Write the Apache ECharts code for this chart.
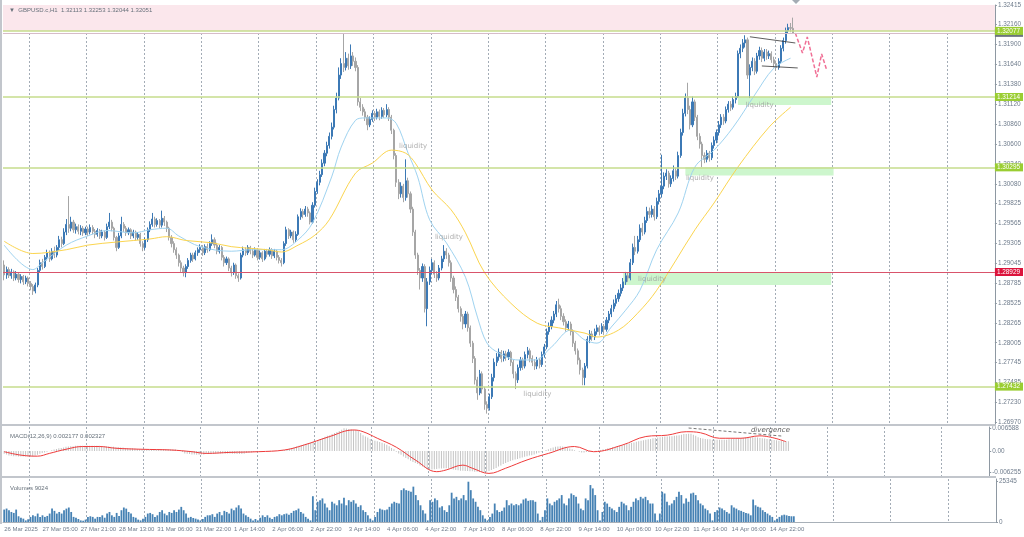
<!DOCTYPE html>
<html><head><meta charset="utf-8">
<script src="https://cdn.jsdelivr.net/npm/echarts@6.0.0/dist/echarts.min.js"></script>
<style>html,body{margin:0;padding:0;background:#fff}#c{width:1024px;height:537px}</style>
</head><body><div id="c"></div>
<script>
// ---------- DATA ----------
const timeLabels = ['26 Mar 2025','27 Mar 05:00','27 Mar 21:00','28 Mar 13:00','31 Mar 06:00','31 Mar 22:00','1 Apr 14:00','2 Apr 06:00','2 Apr 22:00','3 Apr 14:00','4 Apr 06:00','4 Apr 22:00','7 Apr 14:00','8 Apr 06:00','8 Apr 22:00','9 Apr 14:00','10 Apr 06:00','10 Apr 22:00','11 Apr 14:00','14 Apr 06:00','14 Apr 22:00'];
const priceTicks = [1.32415,1.32160,1.31900,1.31640,1.31380,1.31120,1.30860,1.30600,1.30340,1.30080,1.29825,1.29565,1.29305,1.29045,1.28785,1.28525,1.28265,1.28005,1.27745,1.27485,1.27230,1.26970];
const macdTicks = [0.006588, 0, -0.006255];
const volumeTicks = [25345, 0];

// hourly candles: open, close, low, high (price x 10^4)
const ohlc = [
[12902,12889,12882,12908],[12889,12896,12884,12900],[12896,12888,12885,12899],[12888,12893,12884,12897],[12893,12885,12881,12895],
[12885,12890,12882,12894],[12890,12883,12879,12892],[12883,12887,12878,12890],[12887,12880,12876,12889],[12880,12885,12877,12888],
[12885,12878,12874,12887],[12878,12874,12869,12881],[12874,12868,12863,12877],[12868,12876,12865,12879],[12876,12895,12873,12898],
[12895,12905,12892,12909],[12905,12900,12896,12910],[12900,12912,12898,12915],[12912,12918,12908,12922],[12918,12910,12906,12921],
[12910,12920,12908,12924],[12920,12915,12911,12926],[12915,12925,12912,12928],[12925,12935,12921,12940],[12935,12930,12925,12939],
[12930,12945,12928,12950],[12945,12955,12941,12962],[12955,12950,12944,12992],[12950,12958,12946,12965],[12958,12948,12944,12961],
[12948,12952,12943,12956],[12952,12946,12942,12955],[12946,12950,12941,12954],[12950,12944,12940,12953],[12944,12949,12941,12952],
[12949,12945,12940,12952],[12945,12951,12942,12955],[12951,12946,12942,12954],[12946,12942,12937,12949],[12942,12947,12939,12950],
[12947,12940,12936,12949],[12940,12945,12937,12948],[12945,12938,12934,12947],[12938,12952,12936,12956],[12952,12958,12949,12970],
[12958,12950,12946,12961],[12950,12938,12934,12952],[12938,12925,12920,12940],[12925,12940,12923,12944],[12940,12955,12937,12965],
[12955,12950,12945,12958],[12950,12944,12940,12953],[12944,12948,12941,12951],[12948,12940,12936,12950],[12940,12945,12937,12948],
[12945,12938,12934,12947],[12938,12942,12935,12945],[12942,12930,12926,12944],[12930,12925,12920,12933],[12925,12935,12922,12938],
[12935,12948,12932,12951],[12948,12955,12945,12959],[12955,12962,12952,12970],[12962,12955,12951,12965],[12955,12960,12952,12963],
[12960,12954,12950,12962],[12954,12963,12951,12973],[12963,12958,12953,12966],[12958,12950,12945,12960],[12950,12938,12934,12952],
[12938,12930,12925,12941],[12930,12922,12918,12933],[12922,12915,12910,12925],[12915,12905,12900,12917],[12905,12898,12893,12908],
[12898,12892,12887,12901],[12892,12900,12886,12903],[12900,12908,12897,12911],[12908,12915,12905,12918],[12915,12910,12906,12918],
[12910,12918,12908,12921],[12918,12922,12914,12925],[12922,12925,12918,12929],[12925,12918,12914,12928],[12918,12926,12915,12929],
[12926,12922,12918,12930],[12922,12930,12920,12933],[12930,12935,12927,12942],[12935,12928,12924,12938],[12928,12920,12916,12931],
[12920,12925,12917,12928],[12925,12912,12908,12927],[12912,12905,12900,12915],[12905,12910,12902,12913],[12910,12898,12894,12912],
[12898,12892,12887,12901],[12892,12902,12889,12905],[12902,12888,12884,12904],[12888,12885,12880,12891],[12885,12915,12883,12918],
[12915,12922,12912,12926],[12922,12918,12914,12925],[12918,12925,12915,12928],[12925,12920,12916,12927],[12920,12915,12911,12923],
[12915,12922,12913,12925],[12922,12912,12908,12924],[12912,12918,12909,12921],[12918,12910,12906,12920],[12910,12920,12908,12923],
[12920,12916,12912,12923],[12916,12922,12913,12925],[12922,12914,12910,12924],[12914,12920,12911,12923],[12920,12912,12908,12922],
[12912,12908,12904,12915],[12908,12905,12900,12911],[12905,12930,12903,12933],[12930,12948,12927,12952],[12948,12940,12936,12950],
[12940,12945,12937,12948],[12945,12935,12931,12947],[12935,12942,12932,12946],[12942,12965,12940,12968],[12965,12972,12961,12976],
[12972,12968,12963,12975],[12968,12975,12965,12979],[12975,12970,12965,12978],[12970,12958,12955,12972],[12958,12980,12956,12984],
[12980,12998,12977,13003],[12998,13010,12995,13014],[13010,13020,13006,13025],[13020,13035,13017,13040],[13035,13048,13031,13052],
[13048,13058,13044,13063],[13058,13070,13054,13075],[13070,13082,13066,13088],[13082,13105,13079,13110],[13105,13120,13100,13127],
[13120,13150,13117,13160],[13150,13165,13145,13172],[13165,13160,13154,13204],[13160,13172,13156,13180],[13172,13162,13157,13178],
[13162,13175,13158,13190],[13175,13168,13162,13180],[13168,13160,13155,13173],[13160,13115,13110,13163],[13115,13108,13103,13120],
[13108,13102,13097,13112],[13102,13095,13090,13106],[13095,13085,13078,13098],[13085,13092,13082,13096],[13092,13100,13089,13104],
[13100,13095,13090,13103],[13095,13102,13092,13106],[13102,13096,13091,13105],[13096,13104,13093,13108],[13104,13098,13094,13107],
[13098,13105,13095,13112],[13105,13095,13090,13108],[13095,13078,13073,13098],[13078,13045,13040,13080],[13045,13010,13004,13048],
[13010,12995,12988,13014],[12995,13005,12990,13010],[13005,12990,12984,13008],[12990,13012,12986,13040],[13012,12995,12990,13016],
[12995,12975,12970,12998],[12975,12945,12940,12978],[12945,12915,12910,12948],[12915,12895,12889,12918],[12895,12885,12870,12898],
[12885,12900,12880,12904],[12900,12845,12840,12903],[12845,12880,12822,12885],[12880,12895,12876,12900],[12895,12905,12890,12910],
[12905,12890,12885,12908],[12890,12885,12880,12894],[12885,12898,12882,12902],[12898,12910,12895,12914],[12910,12920,12906,12928],
[12920,12915,12910,12924],[12915,12905,12900,12918],[12905,12885,12880,12908],[12885,12870,12865,12888],[12870,12860,12855,12874],
[12860,12845,12840,12863],[12845,12835,12828,12848],[12835,12825,12818,12838],[12825,12838,12820,12842],[12838,12820,12815,12841],
[12820,12800,12795,12823],[12800,12780,12774,12803],[12780,12752,12746,12783],[12752,12735,12726,12756],[12735,12760,12732,12765],
[12760,12740,12734,12763],[12740,12720,12713,12743],[12720,12715,12708,12724],[12715,12730,12712,12734],[12730,12755,12727,12760],
[12755,12775,12750,12780],[12775,12782,12770,12787],[12782,12788,12777,12793],[12788,12780,12775,12791],[12780,12786,12776,12790],
[12786,12782,12777,12790],[12782,12788,12778,12792],[12788,12775,12770,12790],[12775,12760,12754,12778],[12760,12752,12740,12763],
[12752,12768,12748,12772],[12768,12778,12764,12782],[12778,12770,12765,12781],[12770,12785,12767,12789],[12785,12790,12780,12795],
[12790,12780,12775,12793],[12780,12775,12770,12784],[12775,12770,12765,12779],[12770,12778,12766,12782],[12778,12772,12767,12781],
[12772,12785,12769,12789],[12785,12795,12781,12799],[12795,12815,12792,12819],[12815,12822,12811,12827],[12822,12830,12818,12835],
[12830,12838,12826,12842],[12838,12850,12834,12855],[12850,12845,12840,12858],[12845,12835,12830,12849],[12835,12828,12823,12839],
[12828,12820,12815,12831],[12820,12825,12816,12829],[12825,12815,12810,12828],[12815,12800,12795,12818],[12800,12790,12785,12803],
[12790,12778,12772,12793],[12778,12765,12759,12781],[12765,12755,12745,12768],[12755,12770,12745,12774],[12770,12805,12767,12809],
[12805,12812,12800,12817],[12812,12808,12803,12816],[12808,12815,12804,12819],[12815,12820,12811,12824],[12820,12815,12810,12823],
[12815,12822,12812,12826],[12822,12818,12813,12825],[12818,12830,12815,12834],[12830,12838,12826,12842],[12838,12845,12834,12850],
[12845,12852,12841,12857],[12852,12858,12848,12863],[12858,12865,12854,12870],[12865,12872,12861,12877],[12872,12880,12868,12885],
[12880,12888,12876,12893],[12888,12885,12880,12892],[12885,12905,12882,12910],[12905,12925,12902,12930],[12925,12920,12915,12940],
[12920,12935,12917,12940],[12935,12950,12932,12955],[12950,12945,12940,12957],[12945,12960,12942,12965],[12960,12972,12957,12978],
[12972,12968,12963,12977],[12968,12975,12964,12980],[12975,12965,12960,12979],[12965,12985,12962,12990],[12985,12995,12981,13000],
[12995,13005,12990,13046],[13005,13018,13001,13023],[13018,13022,13013,13027],[13022,13008,13003,13025],[13008,13015,13004,13019],
[13015,13025,13011,13032],[13025,13018,13013,13029],[13018,13045,13015,13050],[13045,13075,13042,13080],[13075,13100,13071,13106],
[13100,13120,13096,13126],[13120,13105,13099,13140],[13105,13085,13079,13110],[13085,13115,13082,13122],[13115,13095,13090,13118],
[13095,13070,13065,13098],[13070,13060,13054,13074],[13060,13045,13030,13063],[13045,13040,13035,13049],[13040,13048,13036,13052],
[13048,13042,13037,13051],[13042,13058,13039,13062],[13058,13065,13054,13070],[13065,13075,13061,13079],[13075,13085,13071,13090],
[13085,13095,13081,13099],[13095,13090,13085,13099],[13090,13105,13087,13109],[13105,13112,13101,13116],[13112,13108,13103,13116],
[13108,13118,13105,13122],[13118,13122,13113,13127],[13122,13178,13120,13182],[13178,13185,13172,13190],[13185,13192,13180,13197],
[13192,13196,13186,13202],[13196,13150,13145,13199],[13150,13160,13120,13164],[13160,13168,13155,13173],[13168,13155,13150,13172],
[13155,13175,13152,13179],[13175,13182,13170,13187],[13182,13172,13167,13186],[13172,13180,13168,13184],[13180,13175,13170,13184],
[13175,13178,13171,13182],[13178,13170,13166,13181],[13170,13165,13160,13174],[13165,13160,13156,13169],[13160,13168,13157,13172],
[13168,13185,13165,13189],[13185,13195,13181,13199],[13195,13208,13191,13212],[13208,13212,13204,13217],[13212,13211,13206,13218],
[13211,13205,13204,13225]
];

const volumes = [
7800,8440,7400,6300,5700,7800,3600,2700,2100,1000, 1700,3200,4200,3600,5300,3200,4200,3200,3800,5300,
8400,7000,5300,6300,5300,7400,8400,9100,6300,3200, 2700,1900,1000,800,1500,3200,3600,3200,2100,3200,
3200,4200,2700,5300,6300,4200,3200,5700,3800,7400, 9100,8400,6300,5300,3200,2700,1500,1000,2100,3200,
5300,5700,4900,3200,4200,6300,7400,5300,4200,6300, 5700,7400,6300,7800,9500,7400,5300,2700,3200,2500,
2100,1500,1000,1900,3200,4200,4200,4900,3200,5300, 6300,4200,7000,6300,5300,8400,7400,9100,10500,8400,
5300,4200,3200,2100,1000,1900,1000,2700,4200,3200, 4200,2700,1900,3200,3600,4900,4200,4900,5300,4600,
5700,7000,7400,8400,6300,5300,3200,2100,1000,16200, 7400,12700,13700,14800,11600,9100,7400,12700,11600,10500,
13700,11600,15200,10500,13700,12700,13700,11600,9500,10500, 7400,6300,4200,2100,1000,3200,6300,8400,7800,7400,
7800,9500,11600,12700,12000,11600,20000,21100,20000,19600, 19000,22200,16900,13700,10500,7400,5300,1000,13700,12700,
14800,13700,9100,9900,7400,6300,10500,18400,14800,15800, 13700,14800,16900,13700,25300,20000,14800,12700,9500,7400,
4200,2100,1000,3200,5300,11600,7400,6300,7000,9100, 13700,10500,11600,10500,11200,10500,11600,14100,14800,13300,
13700,13700,12700,5300,1000,3200,7400,14800,11600,10500, 12700,13700,14800,16900,11600,10500,14800,17900,16900,15800,
11600,8400,7400,14800,13700,23200,21100,16900,7400,1000, 6300,12700,11600,9500,8400,7400,6300,9500,12700,11600,
10500,7400,9500,12700,14800,13700,15800,14800,15800,13700, 11600,11600,5300,1000,5300,19000,17900,12700,10500,11600,
13700,15800,19000,16900,11600,14800,12700,17900,18400,16900, 13700,11600,10500,8400,7400,5300,1000,6300,7400,9100,
8400,7400,6300,5300,10500,9100,8400,7400,7000,6300, 5700,5300,4200,14100,10500,9500,9100,7400,6300,5300,
4200,3200,1000,2100,3200,4200,4600,4200,3800,3600, 3600
];

// MACD main (histogram), x 10^-4
const macdMain = [
-8,-10,-13,-14,-15,-15,-16,-16,-16,-16, -16,-15,-15,-13,-11,-8,-6,-4,-2,0,
2,4,6,8,9,10,12,13,14,14, 15,15,15,15,15,15,15,15,15,15,
15,14,14,13,13,12,12,11,11,10, 10,9,9,8,8,7,6,5,4,3,
3,3,4,4,5,5,5,5,5,5, 5,5,5,3,0,-3,-7,-8,-9,-10,
-10,-11,-11,-10,-10,-9,-9,-8,-8,-7, -7,-7,-7,-7,-7,-7,-8,-8,-9,-9,
-9,-8,-6,-5,-4,-3,-2,-1,-1,0, 0,0,1,1,1,1,1,2,3,5,
7,9,11,13,15,17,19,21,23,25, 27,29,32,35,38,41,44,46,49,52,
55,58,62,66,65,64,63,62,61,58, 52,46,42,39,35,32,30,28,26,24,
22,18,14,9,5,-2,-7,-11,-16,-20, -24,-28,-32,-35,-38,-42,-45,-48,-52,-55,
-54,-53,-52,-51,-51,-50,-50,-51,-52,-54, -55,-56,-57,-57,-58,-58,-59,-59,-60,-60,
-61,-61,-62,-60,-58,-55,-52,-49,-45,-42, -38,-35,-32,-29,-27,-25,-23,-21,-19,-17,
-15,-13,-12,-10,-7,-5,-2,0,3,5, 8,10,12,13,14,13,12,10,7,5,
2,0,-2,-4,-4,-3,-3,-2,0,1, 2,3,5,6,8,9,11,12,13,15,
16,18,20,22,24,25,27,28,30,31, 33,34,35,37,38,39,40,41,42,42,
43,43,44,45,46,47,49,49,50,50, 47,44,40,38,36,35,34,34,33,33,
33,33,33,33,33,34,35,35,36,36, 37,38,39,39,40,40,40,39,38,37,
36,35,34,33,32,31,30,30,29,28, 28
];
// MACD signal line read at bars: [bar, value x 10^-4]
const macdSignal = [[0,-2],[7,-12],[14,-15],[19,-7],[26,5],[33,13],[40,13],[47,8],[58,5],[70,3],[79,-2],[85,-7],[95,-4],[107,-2],[118,3],[126,17],[137,42],[147,61],[151,56],[157,37],[165,11],[173,-26],[182,-60],[186,-55],[193,-41],[197,-50],[204,-65],[211,-50],[220,-26],[229,-7],[240,13],[248,-2],[260,17],[270,42],[279,46],[287,56],[293,53],[301,37],[310,37],[318,44],[329,27]];

// moving averages read at bars: [bar, price]
const maFast = [[0,1.2928],[12,1.2896],[16,1.2905],[26,1.2928],[35,1.2940],[43,1.2947],[54,1.2944],[61,1.2948],[68,1.2950],[73,1.2940],[82,1.2926],[95,1.2920],[104,1.2922],[116,1.2922],[123,1.2935],[129,1.2957],[137,1.3017],[141,1.3056],[147,1.3091],[151,1.3094],[160,1.3094],[164,1.3087],[169,1.3048],[173,1.3017],[178,1.2961],[185,1.2931],[193,1.2886],[198,1.2834],[202,1.2800],[207,1.2787],[215,1.2778],[222,1.2778],[229,1.2795],[237,1.2817],[243,1.2804],[248,1.2800],[254,1.2821],[260,1.2843],[266,1.2869],[273,1.2922],[282,1.2970],[289,1.3030],[297,1.3052],[305,1.3082],[314,1.3124],[322,1.3159],[329,1.3172]];
const maSlow = [[0,1.2933],[12,1.2917],[26,1.2922],[35,1.2928],[47,1.2932],[61,1.2936],[68,1.2939],[76,1.2934],[87,1.2931],[95,1.2926],[110,1.2922],[116,1.2919],[123,1.2928],[130,1.2941],[136,1.2961],[147,1.3022],[154,1.3035],[162,1.3052],[168,1.3048],[172,1.3035],[179,1.3000],[187,1.2974],[193,1.2944],[201,1.2892],[212,1.2852],[223,1.2826],[232,1.2820],[243,1.2813],[248,1.2808],[257,1.2817],[265,1.2839],[273,1.2869],[289,1.2948],[297,1.2983],[307,1.3030],[320,1.3082],[329,1.3108]];

// levels and drawings
const greenLevels = [1.31214, 1.30295, 1.27432, 1.32077];
const redLevel = 1.28929;
const bidPrice = 1.32051;
const resistanceZone = [1.32077, 1.32415];
const liquidityZones = [[307, 346, 1.31214, 1.31110], [285, 347, 1.30295, 1.30190], [259, 346, 1.28929, 1.28760]];
const liquidityLabels = [[165, 1.30574], [180, 1.29386], [217, 1.27336], [265, 1.28837], [285, 1.30156], [310, 1.31109]];
const triangleUpper = [[312, 1.32000], [331, 1.31919]];
const triangleLower = [[317, 1.31619], [332, 1.31593]];
const projection = [[331, 1.32049], [334, 1.31788], [336, 1.31997], [340, 1.31475], [342, 1.31775], [344, 1.31579]];
const divergenceLine = [[288, 0.00667], [327, 0.00435]];
const divergenceLabel = [[314, 0.0061]];

// ---------- CHART ----------
const SLOTS = 415;
const categories = Array.from({length: SLOTS}, (_, i) => String(i));
const P = v => v / 10000;
const axisText = {fontSize: 6.4, color: '#6f7c8c', fontFamily: 'Liberation Sans'};
const gridLineIdx = i => i % 24 === 11;
function xAx(g, showLabels) {
  return {
    type: 'category', gridIndex: g, data: categories, boundaryGap: true,
    axisLine: {show: showLabels, lineStyle: {color: '#a8b0b8'}},
    axisTick: {show: false},
    axisLabel: showLabels ? {
      show: true, fontSize: 6, color: '#6f7c8c', fontFamily: 'Liberation Sans', align: 'left', margin: 4,
      interval: (i) => i % 16 === 0 && i / 16 < timeLabels.length,
      formatter: (v) => timeLabels[Number(v) / 16] || ''
    } : {show: false},
    splitLine: {show: true, interval: gridLineIdx, lineStyle: {color: '#a3acb6', type: [2, 2], width: 1}}
  };
}
function yAx(g, min, max, ticks, fmt) {
  return {
    type: 'value', gridIndex: g, position: 'right', min, max,
    splitLine: {show: false},
    axisLine: {show: true, lineStyle: {color: '#8e98a2'}},
    axisTick: {show: true, length: 2, customValues: ticks, lineStyle: {color: '#8e98a2'}},
    axisLabel: Object.assign({customValues: ticks, formatter: fmt, margin: 3}, axisText)
  };
}
const lvlLabel = (txt, bg) => ({show: true, position: 'end', distance: 0, formatter: txt, backgroundColor: bg, color: '#fff', fontSize: 6.4, fontFamily: 'Liberation Sans', padding: [1, 3, 1, 2]});

const option = {
  animation: false,
  backgroundColor: '#ffffff',
  grid: [
    {left: 3, width: 993, top: 5, height: 419},
    {left: 3, width: 993, top: 427, height: 49},
    {left: 3, width: 993, top: 479, height: 43}
  ],
  xAxis: [xAx(0, false), xAx(1, false), xAx(2, true)],
  yAxis: [
    yAx(0, 1.26944, 1.32415, priceTicks, v => v.toFixed(5)),
    yAx(1, -0.007255, 0.006965, macdTicks, v => v === 0 ? '0.00' : v.toFixed(6)),
    yAx(2, 0, 27000, volumeTicks, v => String(v))
  ],
  title: [
    {text: '\u25BC  GBPUSD.c,H1  1.32113 1.32253 1.32044 1.32051', left: 4, top: 2, textStyle: {fontSize: 6, color: '#66707a', fontWeight: 'normal', fontFamily: 'Liberation Sans'}},
    {text: 'MACD(12,26,9) 0.002177 0.002327', left: 5, top: 428, textStyle: {fontSize: 6, color: '#66707a', fontWeight: 'normal', fontFamily: 'Liberation Sans'}},
    {text: 'Volumes 9024', left: 5, top: 480, textStyle: {fontSize: 6, color: '#66707a', fontWeight: 'normal', fontFamily: 'Liberation Sans'}}
  ],
  graphic: [
    {type: 'rect', shape: {x: 0, y: 424, width: 996, height: 2}, style: {fill: '#c2c6cc'}, z: 10},
    {type: 'rect', shape: {x: 0, y: 476, width: 996, height: 2}, style: {fill: '#c2c6cc'}, z: 10},
    {type: 'rect', shape: {x: 0, y: 0, width: 2, height: 524}, style: {fill: '#c2c6cc'}, z: 10},
    {type: 'polygon', shape: {points: [[792, 0], [800, 0], [796, 4]]}, style: {fill: '#a4acb4'}, z: 10}
  ],
  series: [
    {
      name: 'zones', type: 'line', xAxisIndex: 0, yAxisIndex: 0, data: [], clip: false, silent: true,
      markArea: {
        silent: true, precision: 5,
        data: [
          [{yAxis: resistanceZone[0], itemStyle: {color: '#fbe7ec'}}, {yAxis: resistanceZone[1]}]
        ].concat(liquidityZones.map(z => [
          {xAxis: z[0], yAxis: z[2], itemStyle: {color: '#cdf6cd'}}, {xAxis: z[1], yAxis: z[3]}
        ]))
      },
      markLine: {
        silent: true, symbol: 'none', animation: false, precision: 5,
        data: [
          {yAxis: bidPrice, lineStyle: {color: '#d6bcc8', width: 1, type: 'solid'}, label: lvlLabel('1.32051', '#6d7580')},
          {yAxis: redLevel, lineStyle: {color: '#d9546b', width: 1, type: 'solid'}, label: lvlLabel('1.28929', '#dc143c')}
        ].concat(greenLevels.map(v => ({yAxis: v, lineStyle: {color: '#c6dd8c', width: 1.5, type: 'solid'}, label: lvlLabel(v.toFixed(5), '#9acd32')})))
      }
    },
    {
      name: 'GBPUSD', type: 'candlestick', xAxisIndex: 0, yAxisIndex: 0,
      data: ohlc.map(r => r.map(P)), barWidth: 1.6,
      itemStyle: {color: '#3c79b5', color0: '#a6a6a6', borderColor: '#3c79b5', borderColor0: '#a6a6a6', borderWidth: 1}
    },
    {name: 'MA fast', type: 'line', xAxisIndex: 0, yAxisIndex: 0, data: maFast, smooth: 0.35, showSymbol: false, lineStyle: {color: '#9fd3f0', width: 1}, silent: true},
    {name: 'MA slow', type: 'line', xAxisIndex: 0, yAxisIndex: 0, data: maSlow, smooth: 0.35, showSymbol: false, lineStyle: {color: '#fbd54f', width: 1}, silent: true},
    {name: 'tri up', type: 'line', xAxisIndex: 0, yAxisIndex: 0, data: triangleUpper, showSymbol: false, lineStyle: {color: '#333', width: 0.8}, silent: true},
    {name: 'tri low', type: 'line', xAxisIndex: 0, yAxisIndex: 0, data: triangleLower, showSymbol: false, lineStyle: {color: '#333', width: 0.8}, silent: true},
    {name: 'projection', type: 'line', xAxisIndex: 0, yAxisIndex: 0, data: projection, showSymbol: false, lineStyle: {color: '#f07096', width: 1.5, type: [4, 2]}, silent: true},
    {
      name: 'liquidity', type: 'scatter', xAxisIndex: 0, yAxisIndex: 0, data: liquidityLabels, symbolSize: 1,
      itemStyle: {color: 'rgba(0,0,0,0)'}, silent: true, z: 6,
      label: {show: true, position: 'right', distance: 0, formatter: 'liquidity', color: '#9a9a9a', fontSize: 7, fontFamily: 'DejaVu Sans'}
    },
    {name: 'MACD', type: 'bar', xAxisIndex: 1, yAxisIndex: 1, data: macdMain.map(v => v / 10000), barWidth: 1, itemStyle: {color: '#c4c4c4'}, silent: true},
    {name: 'Signal', type: 'line', xAxisIndex: 1, yAxisIndex: 1, data: macdSignal.map(d => [d[0], d[1] / 10000]), smooth: 0.4, showSymbol: false, lineStyle: {color: '#ef3b3b', width: 1}, silent: true},
    {name: 'divergence', type: 'line', xAxisIndex: 1, yAxisIndex: 1, data: divergenceLine, showSymbol: false, lineStyle: {color: '#555', width: 0.8, type: [3, 2]}, silent: true},
    {
      name: 'divergence text', type: 'scatter', xAxisIndex: 1, yAxisIndex: 1, data: divergenceLabel, symbolSize: 1,
      itemStyle: {color: 'rgba(0,0,0,0)'}, silent: true, z: 6,
      label: {show: true, position: 'right', distance: 0, formatter: 'divergence', color: '#333', fontSize: 7, fontStyle: 'italic', fontFamily: 'DejaVu Sans'}
    },
    {name: 'Volumes', type: 'bar', xAxisIndex: 2, yAxisIndex: 2, data: volumes, barWidth: 1.8, itemStyle: {color: '#4682b4'}, silent: true}
  ]
};
const chart = echarts.init(document.getElementById('c'), null, {renderer: 'canvas'});
chart.setOption(option);
</script></body></html>
